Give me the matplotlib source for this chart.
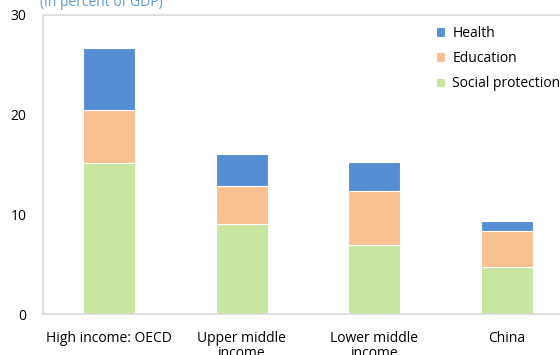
import matplotlib
matplotlib.use("Agg")
import matplotlib.pyplot as plt
import numpy as np

categories = ["High income: OECD", "Upper middle\nincome", "Lower middle\nincome", "China"]
social = [15.2, 9.0, 6.9, 4.7]
education = [5.3, 3.8, 5.4, 3.6]
health = [6.2, 3.3, 3.0, 1.0]
yticks = [0, 10, 20, 30]

plt.rcParams['font.family'] = ['Open Sans', 'DejaVu Sans']

fig = plt.figure(figsize=(5.6, 3.55), dpi=100)
ax = fig.add_axes([43/560, 1-314/355, 530/560, 299/355])

x = np.arange(len(categories))
w = 0.39
c_soc, c_edu, c_hea = '#C8E6A0', '#F9C091', '#558ED5'
s = np.array(social); e = np.array(education); h = np.array(health)
ax.bar(x, s, w, color=c_soc, edgecolor='white', linewidth=0.8, label='Social protection')
ax.bar(x, e, w, bottom=s, color=c_edu, edgecolor='white', linewidth=0.8, label='Education')
ax.bar(x, h, w, bottom=s+e, color=c_hea, edgecolor='white', linewidth=0.8, label='Health')

ax.set_xlim(-0.5, 3.5)
ax.set_ylim(0, 30)
ax.set_yticks(yticks)
ax.set_xticks(x)
ax.set_xticklabels(categories, fontsize=10, linespacing=1.0)
ax.tick_params(axis='both', length=0, labelsize=10, colors='black')
ax.tick_params(axis='y', pad=12)
ax.tick_params(axis='x', pad=12)
for sp in ['top', 'left', 'bottom', 'right']:
    ax.spines[sp].set_color('#d9d9d9')
    ax.spines[sp].set_linewidth(1.2)

handles, labels = ax.get_legend_handles_labels()
fig.legend(handles[::-1], labels[::-1], loc='upper left', bbox_to_anchor=(430/560, 1-20/355),
           frameon=False, fontsize=10, handlelength=0.7, handleheight=0.7,
           handletextpad=0.5, labelspacing=0.75, borderaxespad=0)

fig.text(40/560, 1-2/355, "(In percent of GDP)", color='#5B9BD5', fontsize=10, ha='left', va='center')

fig.savefig("out.png", dpi=100)
